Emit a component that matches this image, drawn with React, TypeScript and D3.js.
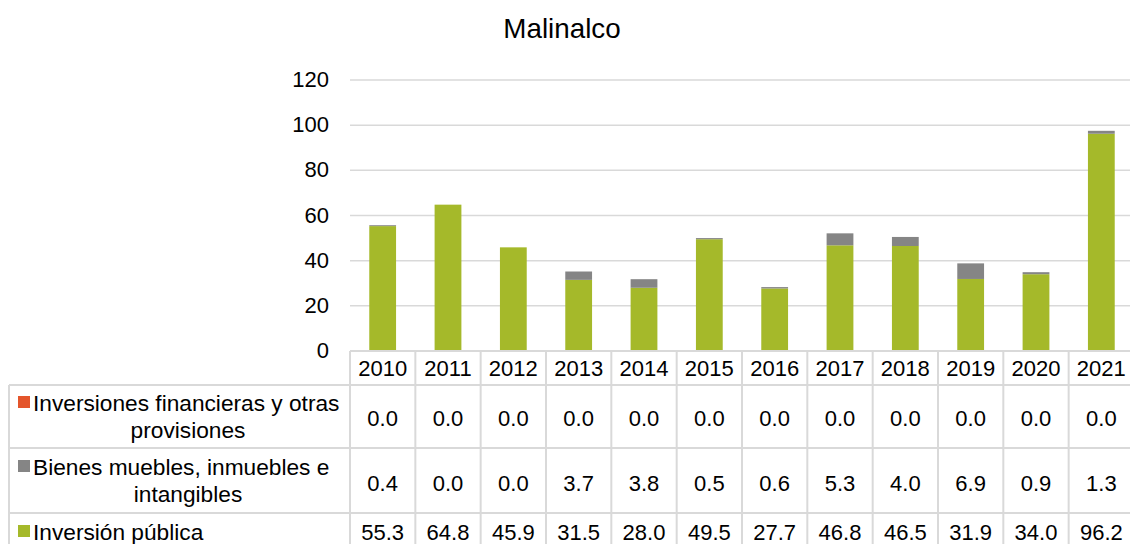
import React from "react";
import * as d3 from "d3";

const years = ["2010", "2011", "2012", "2013", "2014", "2015", "2016", "2017", "2018", "2019", "2020", "2021"];
const inversionPublica = [55.3, 64.8, 45.9, 31.5, 28.0, 49.5, 27.7, 46.8, 46.5, 31.9, 34.0, 96.2];
const bienesMuebles = [0.4, 0.0, 0.0, 3.7, 3.8, 0.5, 0.6, 5.3, 4.0, 6.9, 0.9, 1.3];
const inversionesFinancieras = [0.0, 0.0, 0.0, 0.0, 0.0, 0.0, 0.0, 0.0, 0.0, 0.0, 0.0, 0.0];
const yTicks = [0, 20, 40, 60, 80, 100, 120];

const series = [
  { key: "pub", values: inversionPublica, color: "#a5b92a", lines: ["Inversión pública"] },
  { key: "bien", values: bienesMuebles, color: "#858585", lines: ["Bienes muebles, inmuebles e", "intangibles"] },
  { key: "fin", values: inversionesFinancieras, color: "#e4552b", lines: ["Inversiones financieras y otras", "provisiones"] },
];

const FONT = "Liberation Sans, Arial, sans-serif";
const GRID = "#d9d9d9";

export default function App() {
  const width = 1130;
  const height = 544;
  const plot = { left: 350, right: 1134, top: 80, bottom: 351 };

  const x = d3.scaleBand<string>().domain(years).range([plot.left, plot.right]).padding(0);
  const y = d3.scaleLinear().domain([0, 120]).range([plot.bottom, plot.top]);
  const barW = x.bandwidth() * 0.41;

  const rows = years.map((yr, i) => ({
    year: yr,
    pub: inversionPublica[i],
    bien: bienesMuebles[i],
    fin: inversionesFinancieras[i],
  }));
  const stacked = d3.stack<any>().keys(["pub", "bien", "fin"])(rows);

  // table rows (top to bottom): financieras, bienes, publica
  const tableRows = [
    { s: series[2], top: 385, valueY: 426, labelY: [411, 438] },
    { s: series[1], top: 448, valueY: 491, labelY: [475, 502] },
    { s: series[0], top: 513, valueY: 540, labelY: [540] },
  ];
  const tableLeft = 9;
  const fs = 22;
  const labelFs = 22.7;

  return (
    <svg width={width} height={height} style={{ position: "absolute", left: 0, top: 0 }} fontFamily={FONT}>
      <rect width={width} height={height} fill="#fff" />
      <text x={562} y={38} textAnchor="middle" fontSize={27.8} fill="#000">Malinalco</text>

      {yTicks.map((t) => (
        <g key={t}>
          {t > 0 && (
            <line x1={plot.left} x2={plot.right} y1={y(t)} y2={y(t)} stroke={GRID} strokeWidth={1.5} />
          )}
          <text x={329} y={y(t) + 7} textAnchor="end" fontSize={fs} fill="#000">{t}</text>
        </g>
      ))}

      {stacked.map((layer, li) => (
        <g key={layer.key} fill={series[li].color}>
          {layer.map((d, i) => {
            const h = y(d[0]) - y(d[1]);
            if (h <= 0) return null;
            return (
              <rect key={i} x={(x(years[i]) as number) + (x.bandwidth() - barW) / 2} y={y(d[1])}
                width={barW} height={h} />
            );
          })}
        </g>
      ))}

      {/* data table */}
      <g stroke={GRID} strokeWidth={2} fill="none">
        <line x1={plot.left} x2={width} y1={plot.bottom} y2={plot.bottom} />
        {tableRows.map((r, i) => (
          <line key={i} x1={tableLeft} x2={width} y1={r.top} y2={r.top} />
        ))}
        <line x1={tableLeft} x2={tableLeft} y1={tableRows[0].top} y2={height} />
        {years.map((yr) => (
          <line key={yr} x1={x(yr)} x2={x(yr)} y1={plot.bottom} y2={height} />
        ))}
      </g>

      {years.map((yr) => (
        <text key={yr} x={(x(yr) as number) + x.bandwidth() / 2} y={376} textAnchor="middle" fontSize={fs} fill="#000">{yr}</text>
      ))}

      {tableRows.map((r, ri) => (
        <g key={ri}>
          {r.s.values.map((v, i) => (
            <text key={i} x={(x(years[i]) as number) + x.bandwidth() / 2}
              y={r.valueY} textAnchor="middle" fontSize={fs} fill="#000">
              {v.toFixed(1)}
            </text>
          ))}
          <rect x={18} y={r.labelY[0] - 15} width={12} height={12} fill={r.s.color} />
          <text x={33} y={r.labelY[0]} fontSize={labelFs} fill="#000">{r.s.lines[0]}</text>
          {r.s.lines.length > 1 && (
            <text x={188} y={r.labelY[1]} textAnchor="middle" fontSize={labelFs} fill="#000">{r.s.lines[1]}</text>
          )}
        </g>
      ))}
    </svg>
  );
}
